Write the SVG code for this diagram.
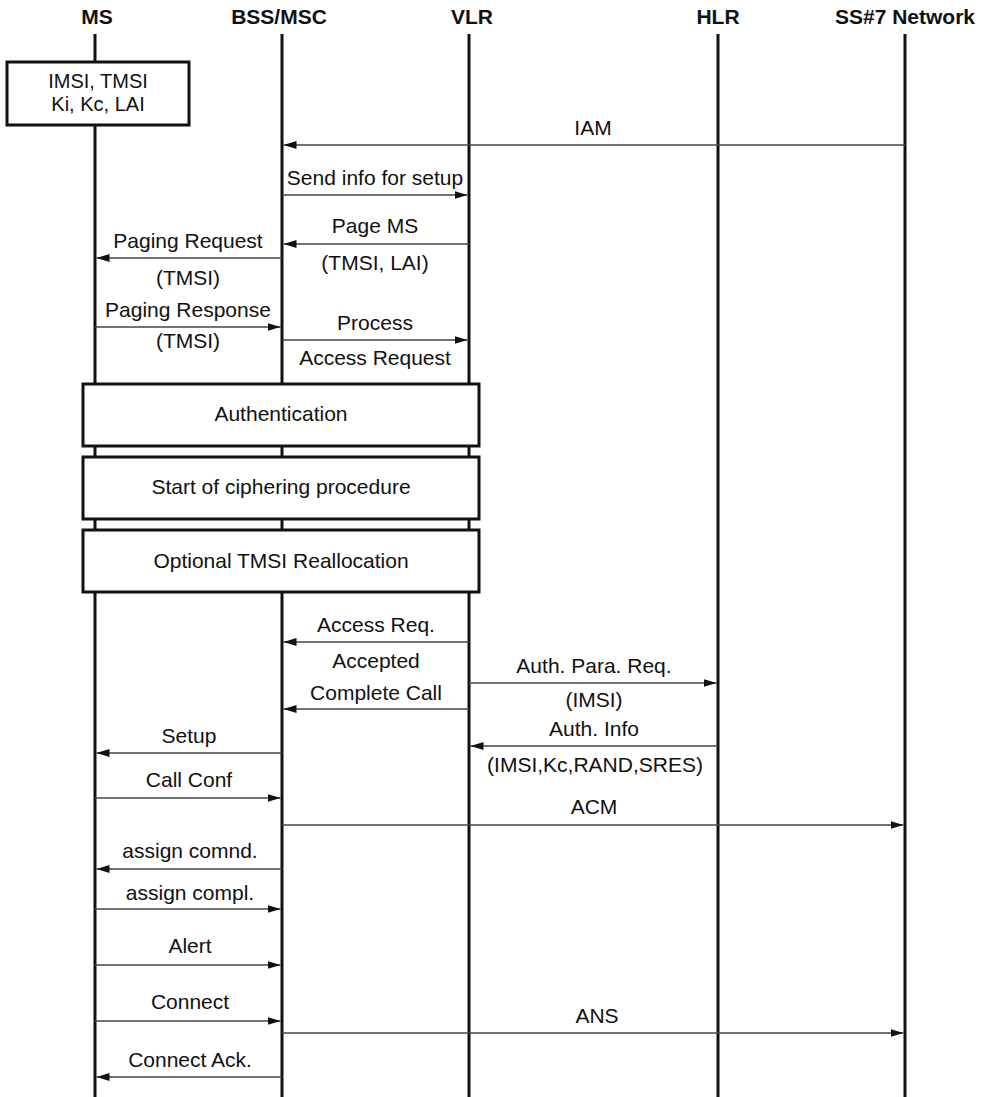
<svg xmlns="http://www.w3.org/2000/svg" width="985" height="1097" viewBox="0 0 985 1097">
<style>
.hdr{font-family:"Liberation Sans",Arial,sans-serif;font-weight:bold;font-size:21px;fill:#111;text-anchor:middle}
.lbl{font-family:"Liberation Sans",Arial,sans-serif;font-size:21px;fill:#111;text-anchor:middle}
.lbs{font-family:"Liberation Sans",Arial,sans-serif;font-size:20px;fill:#111;text-anchor:middle}
.life{stroke:#111;stroke-width:3;fill:none}
.box{fill:#fff;stroke:#111;stroke-width:3}
.msg{stroke:#444;stroke-width:1.6;fill:none;marker-end:url(#ah)}
</style>
<defs>
<marker id="ah" markerUnits="userSpaceOnUse" markerWidth="14" markerHeight="8" refX="13" refY="4" orient="auto">
<path d="M0,0 L13,4 L0,8 z" fill="#111"/>
</marker>
</defs>
<rect width="985" height="1097" fill="#fff"/>
<g id="MS">
<text class="hdr" x="97" y="24">MS</text>
<line class="life" x1="95" y1="34" x2="95" y2="1097"/>
</g>
<g id="BSS_MSC">
<text class="hdr" x="279" y="24">BSS/MSC</text>
<line class="life" x1="282" y1="34" x2="282" y2="1097"/>
</g>
<g id="VLR">
<text class="hdr" x="472" y="24">VLR</text>
<line class="life" x1="469" y1="34" x2="469" y2="1097"/>
</g>
<g id="HLR">
<text class="hdr" x="718" y="24">HLR</text>
<line class="life" x1="718" y1="34" x2="718" y2="1097"/>
</g>
<g id="SS7">
<text class="hdr" x="905" y="24">SS#7 Network</text>
<line class="life" x1="905" y1="34" x2="905" y2="1097"/>
</g>
<g id="ms_data">
<rect class="box" x="7" y="62" width="182" height="63"/>
<text class="lbs" x="98" y="88">IMSI, TMSI</text>
<text class="lbs" x="98" y="111">Ki, Kc, LAI</text>
</g>
<g id="authentication">
<rect class="box" x="83" y="384" width="396" height="62"/>
<text class="lbl" x="281" y="421">Authentication</text>
</g>
<g id="ciphering">
<rect class="box" x="83" y="457" width="396" height="62"/>
<text class="lbl" x="281" y="494">Start of ciphering procedure</text>
</g>
<g id="tmsi_realloc">
<rect class="box" x="83" y="530" width="396" height="62"/>
<text class="lbl" x="281" y="568">Optional TMSI Reallocation</text>
</g>
<g id="connectors">
<line class="msg" x1="905" y1="145" x2="283.5" y2="145"/>
<text class="lbl" x="593" y="135">IAM</text>
<line class="msg" x1="282" y1="195" x2="467.5" y2="195"/>
<text class="lbl" x="375" y="185">Send info for setup</text>
<line class="msg" x1="469" y1="244" x2="283.5" y2="244"/>
<text class="lbl" x="375" y="233">Page MS</text>
<text class="lbl" x="375" y="270">(TMSI, LAI)</text>
<line class="msg" x1="282" y1="258" x2="96.5" y2="258"/>
<text class="lbl" x="188" y="248">Paging Request</text>
<text class="lbl" x="188" y="285">(TMSI)</text>
<line class="msg" x1="95" y1="327" x2="280.5" y2="327"/>
<text class="lbl" x="188" y="317">Paging Response</text>
<text class="lbl" x="188" y="348">(TMSI)</text>
<line class="msg" x1="282" y1="340" x2="467.5" y2="340"/>
<text class="lbl" x="375" y="330">Process</text>
<text class="lbl" x="375" y="365">Access Request</text>
<line class="msg" x1="469" y1="642" x2="283.5" y2="642"/>
<text class="lbl" x="376" y="632">Access Req.</text>
<text class="lbl" x="376" y="668">Accepted</text>
<text class="lbl" x="376" y="700">Complete Call</text>
<line class="msg" x1="469" y1="709" x2="283.5" y2="709"/>
<line class="msg" x1="469" y1="683" x2="716.5" y2="683"/>
<text class="lbl" x="594" y="673">Auth. Para. Req.</text>
<text class="lbl" x="594" y="707">(IMSI)</text>
<line class="msg" x1="718" y1="746" x2="470.5" y2="746"/>
<text class="lbl" x="594" y="736">Auth. Info</text>
<text class="lbl" x="595" y="772">(IMSI,Kc,RAND,SRES)</text>
<line class="msg" x1="282" y1="753" x2="96.5" y2="753"/>
<text class="lbl" x="189" y="743">Setup</text>
<line class="msg" x1="95" y1="798" x2="280.5" y2="798"/>
<text class="lbl" x="189" y="787">Call Conf</text>
<line class="msg" x1="282" y1="825" x2="903.5" y2="825"/>
<text class="lbl" x="594" y="814">ACM</text>
<line class="msg" x1="282" y1="869" x2="96.5" y2="869"/>
<text class="lbl" x="190" y="858">assign comnd.</text>
<line class="msg" x1="95" y1="909" x2="280.5" y2="909"/>
<text class="lbl" x="190" y="900">assign compl.</text>
<line class="msg" x1="95" y1="965" x2="280.5" y2="965"/>
<text class="lbl" x="190" y="953">Alert</text>
<line class="msg" x1="95" y1="1021" x2="280.5" y2="1021"/>
<text class="lbl" x="190" y="1009">Connect</text>
<line class="msg" x1="282" y1="1033" x2="903.5" y2="1033"/>
<text class="lbl" x="597" y="1023">ANS</text>
<line class="msg" x1="282" y1="1077" x2="96.5" y2="1077"/>
<text class="lbl" x="190" y="1067">Connect Ack.</text>
</g>
</svg>
